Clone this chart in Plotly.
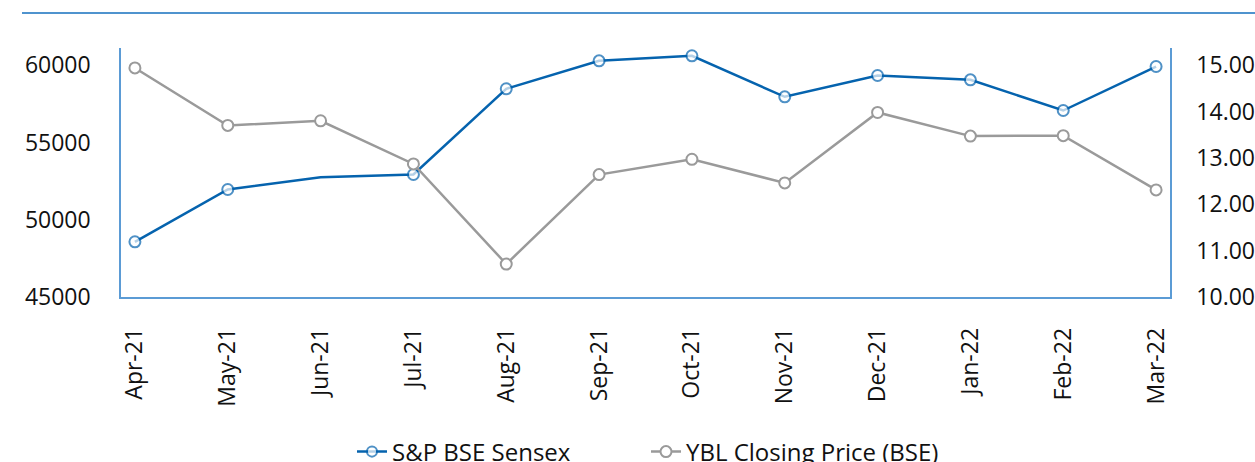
import plotly.graph_objects as go

# Monthly closing levels, FY 2021-22
months = ["Apr-21", "May-21", "Jun-21", "Jul-21", "Aug-21", "Sep-21",
          "Oct-21", "Nov-21", "Dec-21", "Jan-22", "Feb-22", "Mar-22"]
sensex = [48573, 51958, 52754, 52929, 58476, 60288,
          60612, 57958, 59337, 59058, 57071, 59919]
ybl_price = [14.94, 13.70, 13.80, 12.87, 10.71, 12.64,
             12.97, 12.46, 13.98, 13.47, 13.48, 12.31]

left_ticks = [45000, 50000, 55000, 60000]
right_ticks = [10.00, 11.00, 12.00, 13.00, 14.00, 15.00]

BLUE = "#0563AE"
GREY = "#9A9A9A"
AXIS = "#5B9BD5"
FONT = "Open Sans"
TEXT = "#111111"

W, H = 1255, 462
ML, MR, MT, MB = 121, 85, 48, 165
PW, PH = W - ML - MR, H - MT - MB

# Sensex has no marker drawn for June
sensex_sizes = [0 if m == "Jun-21" else 11 for m in months]

fig = go.Figure()
fig.add_trace(go.Scatter(
    x=months, y=sensex, name="S&P BSE Sensex", mode="lines+markers",
    line=dict(color=BLUE, width=2.5),
    marker=dict(symbol="circle", size=sensex_sizes, color="white",
                line=dict(color=BLUE, width=2)),
    yaxis="y",
))
fig.add_trace(go.Scatter(
    x=months, y=ybl_price, name="YBL Closing Price (BSE)", mode="lines+markers",
    line=dict(color=GREY, width=2.5),
    marker=dict(symbol="circle", size=11, color="white",
                line=dict(color=GREY, width=2)),
    yaxis="y2",
))

fig.update_layout(
    width=W, height=H,
    margin=dict(l=ML, r=MR, t=MT, b=MB, pad=0, autoexpand=False),
    paper_bgcolor="white", plot_bgcolor="white",
    font=dict(family=FONT, size=23, color=TEXT),
    showlegend=True,
    legend=dict(orientation="h", xref="container", yref="container",
                x=(352 / W), xanchor="left",
                y=1 - 452 / H, yanchor="middle",
                font=dict(family=FONT, size=24, color=TEXT),
                itemwidth=30, entrywidth=249, entrywidthmode="pixels",
                traceorder="normal"),
    xaxis=dict(
        type="category", range=[-0.15, 11.15], automargin=False,
        showline=True, linecolor=AXIS, linewidth=1.5,
        showgrid=False, zeroline=False,
        ticks="", tickangle=-90, ticklabelstandoff=20,
        tickfont=dict(family=FONT, size=23, color=TEXT),
    ),
    yaxis=dict(
        range=[45000, 61117], tickvals=left_ticks, automargin=False,
        ticktext=[f"{v}" for v in left_ticks],
        showline=True, linecolor=AXIS, linewidth=1.5,
        showgrid=False, zeroline=False, ticks="", ticklabelstandoff=24,
        tickfont=dict(family=FONT, size=23, color=TEXT),
    ),
    yaxis2=dict(
        range=[10, 15.37], tickvals=right_ticks, automargin=False,
        ticktext=[f"{v:.2f}" for v in right_ticks],
        overlaying="y", side="right",
        showline=True, linecolor=AXIS, linewidth=1.5,
        showgrid=False, zeroline=False, ticks="", ticklabelstandoff=20,
        tickfont=dict(family=FONT, size=23, color=TEXT),
    ),
    shapes=[dict(
        type="line", xref="paper", yref="paper",
        x0=(22 - ML) / PW, x1=(W - ML) / PW,
        y0=(H - MB - 13) / PH, y1=(H - MB - 13) / PH,
        line=dict(color="#4F93CE", width=2),
    )],
)

fig.write_html("out.html")
